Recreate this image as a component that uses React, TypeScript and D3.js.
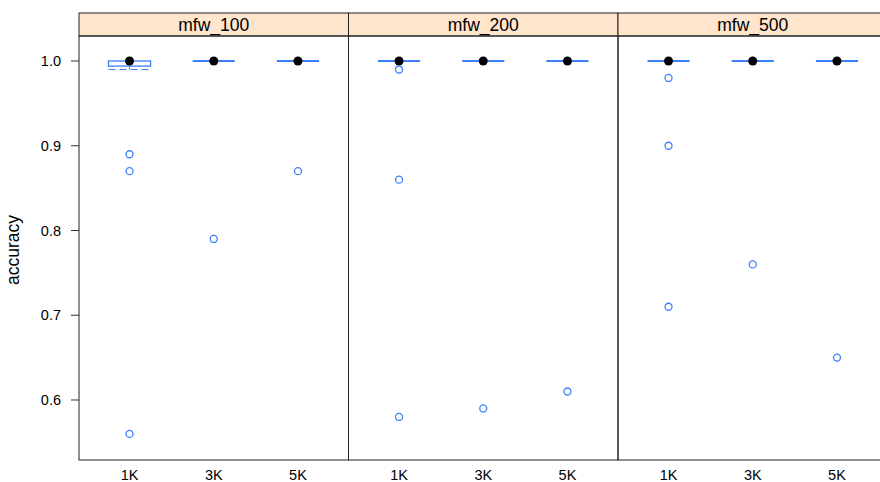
import React from "react";
import * as d3 from "d3";

const panels = ["mfw_100", "mfw_200", "mfw_500"];
const categories = ["1K", "3K", "5K"];
const yTicks = [0.6, 0.7, 0.8, 0.9, 1.0];

// box stats per panel, per category: [lowerWhisker, q1, median, q3, upperWhisker]
const boxStats100 = [
  [0.99, 0.994, 1.0, 1.0, 1.0],
  [1.0, 1.0, 1.0, 1.0, 1.0],
  [1.0, 1.0, 1.0, 1.0, 1.0],
];
const boxStats200 = [
  [1.0, 1.0, 1.0, 1.0, 1.0],
  [1.0, 1.0, 1.0, 1.0, 1.0],
  [1.0, 1.0, 1.0, 1.0, 1.0],
];
const boxStats500 = [
  [1.0, 1.0, 1.0, 1.0, 1.0],
  [1.0, 1.0, 1.0, 1.0, 1.0],
  [1.0, 1.0, 1.0, 1.0, 1.0],
];
const outliers100 = [[0.89, 0.87, 0.56], [0.79], [0.87]];
const outliers200 = [[0.99, 0.86, 0.58], [0.59], [0.61]];
const outliers500 = [[0.98, 0.9, 0.71], [0.76], [0.65]];

const boxStats = [boxStats100, boxStats200, boxStats500];
const outliers = [outliers100, outliers200, outliers500];

export default function App() {
  const W = 880, H = 482;
  const left = 79, stripTop = 13, top = 36, bottom = 460;
  const pw = 269.5;
  const y = d3.scaleLinear().domain([0.5292, 1.0295]).range([bottom, top]);
  const x = d3.scalePoint<string>().domain(categories).range([0, pw]).padding(0.6);
  const boxW = x.step() * 0.5;
  const blue = "#3b7fff";
  const font = "Liberation Sans, Arial, Helvetica, sans-serif";

  return (
    <svg width={W} height={H} style={{ position: "absolute", left: 0, top: 0, background: "#fff" }}
      fontFamily={font}>
      {/* y axis label */}
      <text x={19} y={(top + bottom) / 2 + 2} transform={`rotate(-90 19 ${(top + bottom) / 2 + 2})`}
        textAnchor="middle" fontSize={17.5} fill="#000">accuracy</text>
      {/* y ticks */}
      {yTicks.map((t) => (
        <g key={t}>
          <line x1={left - 8} x2={left} y1={y(t)} y2={y(t)} stroke="#333" />
          <text x={61} y={y(t)} dy="0.36em" textAnchor="end" fontSize={14.5} fill="#000">
            {d3.format(".1f")(t)}
          </text>
        </g>
      ))}
      {panels.map((p, pi) => {
        const x0 = left + pi * pw;
        return (
          <g key={p}>
            {/* strip */}
            <rect x={x0} y={stripTop} width={pw} height={top - stripTop} fill="#ffe5cc" stroke="#222" />
            <text x={x0 + pw / 2} y={(stripTop + top) / 2} dy="0.36em" textAnchor="middle" fontSize={17.5} fill="#000">{p}</text>
            {/* panel */}
            <rect x={x0} y={top} width={pw} height={bottom - top} fill="none" stroke="#222" />
            {categories.map((c, ci) => {
              const cx = x0 + (x(c) as number);
              const [lw, q1, med, q3, uw] = boxStats[pi][ci];
              const bh = y(q1) - y(q3);
              return (
                <g key={c}>
                  {/* whiskers */}
                  {lw < q1 && (
                    <>
                      <line x1={cx} x2={cx} y1={y(q1)} y2={y(lw)} stroke={blue} strokeDasharray="4,3" />
                      <line x1={cx - boxW / 2} x2={cx + boxW / 2} y1={y(lw)} y2={y(lw)} stroke={blue} strokeDasharray="7,4" strokeWidth={1.2} />
                    </>
                  )}
                  {uw > q3 && (
                    <>
                      <line x1={cx} x2={cx} y1={y(q3)} y2={y(uw)} stroke={blue} strokeDasharray="4,3" />
                      <line x1={cx - boxW / 2} x2={cx + boxW / 2} y1={y(uw)} y2={y(uw)} stroke={blue} strokeDasharray="7,4" strokeWidth={1.2} />
                    </>
                  )}
                  {bh > 0.5 ? (
                    <rect x={cx - boxW / 2} y={y(q3)} width={boxW} height={bh}
                      fill="none" stroke={blue} strokeWidth={1.3} />
                  ) : (
                    <line x1={cx - boxW / 2} x2={cx + boxW / 2} y1={y(q3)} y2={y(q3)} stroke={blue} strokeWidth={2} />
                  )}
                  <circle cx={cx} cy={y(med)} r={4.5} fill="#000" />
                  {outliers[pi][ci].map((v, k) => (
                    <circle key={k} cx={cx} cy={y(v)} r={3.5} fill="none" stroke={blue} strokeWidth={1.3} />
                  ))}
                  <text x={cx} y={480} textAnchor="middle" fontSize={14.5} fill="#000">{c}</text>
                </g>
              );
            })}
          </g>
        );
      })}
    </svg>
  );
}
